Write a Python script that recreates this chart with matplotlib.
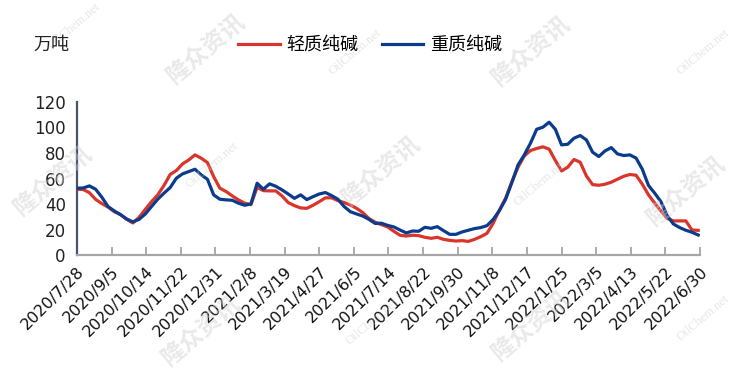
import matplotlib
matplotlib.use("Agg")
import matplotlib.pyplot as plt
import pandas as pd

plt.rcParams['font.family'] = ['DejaVu Sans', 'Noto Sans CJK SC']

# ---- data (weekly, 万吨) ----
start_date = "2020-07-28"
n_weeks = 101
light_soda = [
    51.7, 51.5, 49.0, 43.8, 40.5, 37.8, 34.2, 31.9, 28.2, 25.4,
    29.8, 36.0, 42.0, 47.3, 54.6, 63.2, 66.3, 71.5, 74.6, 78.5,
    75.9, 72.5, 61.6, 52.5, 49.9, 46.5, 43.4, 40.8, 39.7, 53.2,
    50.6, 50.4, 50.4, 46.5, 41.3, 38.9, 37.1, 36.8, 39.2, 42.0,
    45.0, 45.0, 42.8, 41.3, 39.4, 36.8, 33.5, 28.8, 26.0, 24.1,
    22.3, 18.9, 15.8, 15.2, 15.8, 15.5, 14.2, 13.4, 14.2, 12.6,
    11.8, 11.3, 11.6, 11.0, 12.6, 14.7, 17.3, 25.2, 35.5, 44.7,
    57.5, 68.9, 77.7, 81.9, 83.5, 84.8, 83.0, 74.1, 66.0, 68.9,
    74.9, 72.8, 62.1, 55.3, 54.8, 55.6, 57.2, 59.5, 61.8, 63.2,
    62.6, 55.6, 47.3, 40.8, 34.8, 29.0, 27.0, 27.0, 27.0, 19.9,
    19.6,
]
heavy_soda = [
    52.5, 52.7, 54.3, 51.7, 45.5, 38.2, 34.8, 31.9, 28.5, 26.2,
    28.2, 32.4, 38.2, 43.9, 48.6, 53.0, 60.3, 63.7, 65.5, 67.3,
    62.9, 59.5, 47.3, 43.9, 43.4, 43.1, 40.8, 39.2, 40.2, 56.4,
    51.7, 55.9, 54.0, 51.2, 48.0, 44.6, 47.3, 43.6, 45.9, 48.0,
    49.1, 46.7, 43.9, 38.2, 34.2, 32.4, 30.8, 28.2, 25.0, 25.2,
    23.5, 22.3, 19.9, 17.6, 19.1, 18.9, 22.0, 21.2, 22.5, 19.4,
    16.5, 16.5, 18.4, 19.7, 21.0, 21.8, 23.3, 28.2, 35.0, 43.9,
    56.9, 70.7, 78.5, 87.6, 98.5, 100.1, 104.0, 98.5, 86.3, 86.8,
    91.5, 93.6, 90.2, 80.6, 77.2, 81.6, 84.2, 79.3, 78.0, 78.5,
    76.0, 67.3, 54.6, 48.6, 42.0, 31.1, 24.6, 21.8, 19.7, 18.1,
    16.0,
]
series_names = ["轻质纯碱", "重质纯碱"]
tick_step_days = 39
n_ticks = 19
y_ticks = [0, 20, 40, 60, 80, 100, 120]
unit_label = "万吨"

dates = pd.date_range(start_date, periods=n_weeks, freq="7D")
tick_dates = pd.date_range(start_date, periods=n_ticks, freq=f"{tick_step_days}D")
tick_labels = [f"{d.year}/{d.month}/{d.day}" for d in tick_dates]

# ---- figure ----
fig = plt.figure(figsize=(7.38, 3.69), dpi=100)
ax = fig.add_axes([0.1043, 0.3076, 0.8442, 0.4168])

red = "#D9352B"
blue = "#0B3C8C"
ax.plot(dates, light_soda, color=red, lw=2.3, label=series_names[0], solid_joinstyle="round", zorder=3)
ax.plot(dates, heavy_soda, color=blue, lw=2.3, label=series_names[1], solid_joinstyle="round", zorder=4)

ax.set_xlim(tick_dates[0], tick_dates[-1])
ax.set_ylim(0, 120)
ax.set_yticks(y_ticks)
ax.set_yticklabels([str(v) for v in y_ticks], fontsize=12, color="#222222")
ax.set_xticks(tick_dates)
ax.set_xticklabels(tick_labels, rotation=45, ha="right", va="top", rotation_mode="anchor",
                   fontsize=11.5, color="#111111")

for s in ["top", "right"]:
    ax.spines[s].set_visible(False)
ax.spines["left"].set_color("#44546A")
ax.spines["left"].set_linewidth(1.6)
ax.spines["bottom"].set_color("#A6A6A6")
ax.spines["bottom"].set_linewidth(1.6)
ax.tick_params(axis="y", length=0, pad=8)
ax.tick_params(axis="x", direction="in", length=6, width=1.3, color="#A6A6A6", pad=6)
ax.set_facecolor("none")

fig.text(33 / 738, 1 - 45 / 369, unit_label, fontsize=13, ha="left", va="center", color="#222222")

leg = fig.legend(loc="center", bbox_to_anchor=(370 / 738, 1 - 45 / 369), ncol=2, frameon=False,
                 fontsize=13, handlelength=2.3, columnspacing=1.3, handletextpad=0.35)

# ---- watermarks ----
wm_color = "#CFCFCF"
for (x, y) in [(52, 180), (205, 48), (530, 50), (380, 170), (685, 190), (200, 330), (530, 325)]:
    fig.text(x / 738, 1 - y / 369, "隆众资讯", fontsize=17, fontweight="bold", color=wm_color,
             alpha=0.45, rotation=40, ha="center", va="center", zorder=0)
for (x, y) in [(74, 26), (212, 165), (355, 52), (703, 52), (540, 183), (703, 318), (372, 322)]:
    fig.text(x / 738, 1 - y / 369, "OilChem.net", fontsize=9, family="Liberation Serif", color=wm_color,
             alpha=0.5, rotation=40, ha="center", va="center", zorder=0)

fig.savefig("out.png", dpi=100)
